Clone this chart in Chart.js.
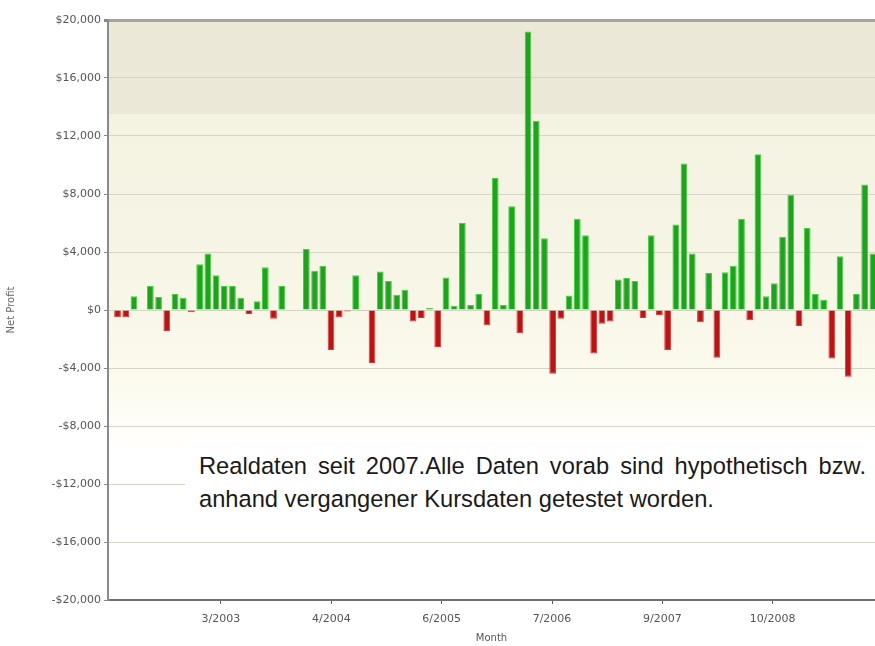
<!DOCTYPE html>
<html>
<head>
<meta charset="utf-8">
<script src="https://cdn.jsdelivr.net/npm/chart.js@4.4.1/dist/chart.umd.min.js"></script>
<style>
html, body { margin: 0; padding: 0; background: #ffffff; }
#wrap { position: relative; width: 875px; height: 646px; overflow: hidden; }
#c { position: absolute; left: 0; top: 0; }
#note {
  position: absolute; left: 185px; top: 440px; width: 667px;
  padding: 10px 9px 10px 14px; background: #ffffff;
  font-family: 'Liberation Sans', Arial, sans-serif; font-size: 23.7px; line-height: 33px;
  color: #1a1a1a; text-align: justify;
}
</style>
</head>
<body>
<div id="wrap">
  <canvas id="c" width="875" height="646"></canvas>
  <div id="note">Realdaten seit 2007.Alle Daten vorab sind hypothetisch bzw. anhand vergangener Kursdaten getestet worden.</div>
</div>
<script>
// ---- data ----
const firstMonth = [2002, 2];   // year, month of first bar
const profits = [
  -500, -500, 950, 50, 1650, 900, -1450, 1100, 850, -150,
  3150, 3900, 2400, 1650, 1650, 850, -280, 600, 2950, -600,
  1650, 0, 50, 4200, 2700, 3050, -2750, -500, -100, 2400,
  -50, -3650, 2650, 2000, 1050, 1400, -800, -550, 150, -2550,
  2250, 300, 6000, 350, 1100, -1050, 9100, 350, 7150, -1600,
  19200, 13050, 4950, -4400, -600, 1000, 6300, 5150, -3000, -950,
  -800, 2100, 2200, 2000, -550, 5150, -350, -2750, 5900, 10100,
  3900, -850, 2550, -3300, 2600, 3050, 6300, -700, 10750, 950,
  1850, 5050, 7950, -1100, 5650, 1100, 700, -3350, 3700, -4600,
  1100, 8650, 3900
];
const months = profits.map((_, i) => {
  const m = firstMonth[1] - 1 + i;
  return (m % 12 + 1) + '/' + (firstMonth[0] + Math.floor(m / 12));
});
const xTickLabels = ['3/2003', '4/2004', '6/2005', '7/2006', '9/2007', '10/2008'];
const yMin = -20000, yMax = 20000, yStep = 4000;

// axis configuration (tick placement in month-index units)
const xTickFirst = 12.6, xTickStep = 13.44;

function money(v) {
  const s = '$' + Math.abs(v).toLocaleString('en-US');
  return v < 0 ? '-' + s : s;
}

const bgPlugin = {
  id: 'bg',
  beforeDraw(chart) {
    const { ctx, chartArea: a, scales: { y } } = chart;
    ctx.save();
    const yTop = y.getPixelForValue(20000);
    const yBand = y.getPixelForValue(13500);
    ctx.fillStyle = '#ebe8d8';
    ctx.fillRect(a.left, yTop, a.right - a.left, yBand - yTop);
    const yFade = y.getPixelForValue(-10000);
    const g = ctx.createLinearGradient(0, yBand, 0, yFade);
    g.addColorStop(0, '#f4f2e1');
    g.addColorStop(0.55, '#f7f6e7');
    g.addColorStop(0.8, '#fcfbef');
    g.addColorStop(1, '#ffffff');
    ctx.fillStyle = g;
    ctx.fillRect(a.left, yBand, a.right - a.left, yFade - yBand);
    ctx.restore();
  }
};

new Chart(document.getElementById('c'), {
  type: 'bar',
  data: {
    datasets: [{
      label: 'Net Profit',
      data: profits.map((v, i) => ({ x: i, y: v, month: months[i] })),
      backgroundColor: profits.map(v => v >= 0 ? '#1fa31f' : '#b91515'),
      borderColor: profits.map(v => v >= 0 ? '#42d242' : '#dd3a3a'),
      borderWidth: 1,
      barPercentage: 0.82,
      categoryPercentage: 1.0
    }]
  },
  plugins: [bgPlugin],
  options: {
    responsive: false,
    animation: false,
    devicePixelRatio: 1,
    layout: { padding: { top: 20, right: 0, bottom: 0, left: 0 } },
    plugins: { legend: { display: false }, tooltip: { enabled: false } },
    scales: {
      x: {
        type: 'linear',
        offset: false,
        min: -1.16,
        max: 92.26,
        afterFit(s) { s.height = 46; },
        afterBuildTicks(s) {
          s.ticks = xTickLabels.map((_, k) => ({ value: xTickFirst + k * xTickStep }));
        },
        ticks: {
          autoSkip: false, maxRotation: 0, padding: 9,
          color: '#555555', font: { family: 'DejaVu Sans', size: 11 },
          callback: (v, i) => xTickLabels[i]
        },
        grid: { offset: false, drawOnChartArea: false, tickLength: 4, tickColor: '#555555' },
        border: { display: true, color: '#707070', width: 2 },
        title: {
          display: true, text: 'Month', color: '#555555',
          font: { family: 'DejaVu Sans', size: 10, lineHeight: 1 },
          padding: { top: 0, bottom: 3 }
        }
      },
      y: {
        min: yMin, max: yMax,
        afterFit(s) { s.width = 108; },
        ticks: {
          stepSize: yStep, padding: 3,
          color: '#555555', font: { family: 'DejaVu Sans', size: 11 },
          callback: v => money(v)
        },
        grid: {
          color: c => c.tick && c.tick.value === yMax ? '#a3a3a3' : '#d6d4c6',
          lineWidth: c => c.tick && c.tick.value === yMax ? 3 : 1,
          tickLength: 4, tickColor: '#888888'
        },
        border: { display: true, color: '#8a8a8a', width: 2 },
        title: {
          display: true, text: 'Net Profit', color: '#666666',
          font: { family: 'DejaVu Sans', size: 10, lineHeight: 1 },
          padding: { top: 6, bottom: 0 }
        }
      }
    }
  }
});
</script>
</body>
</html>
